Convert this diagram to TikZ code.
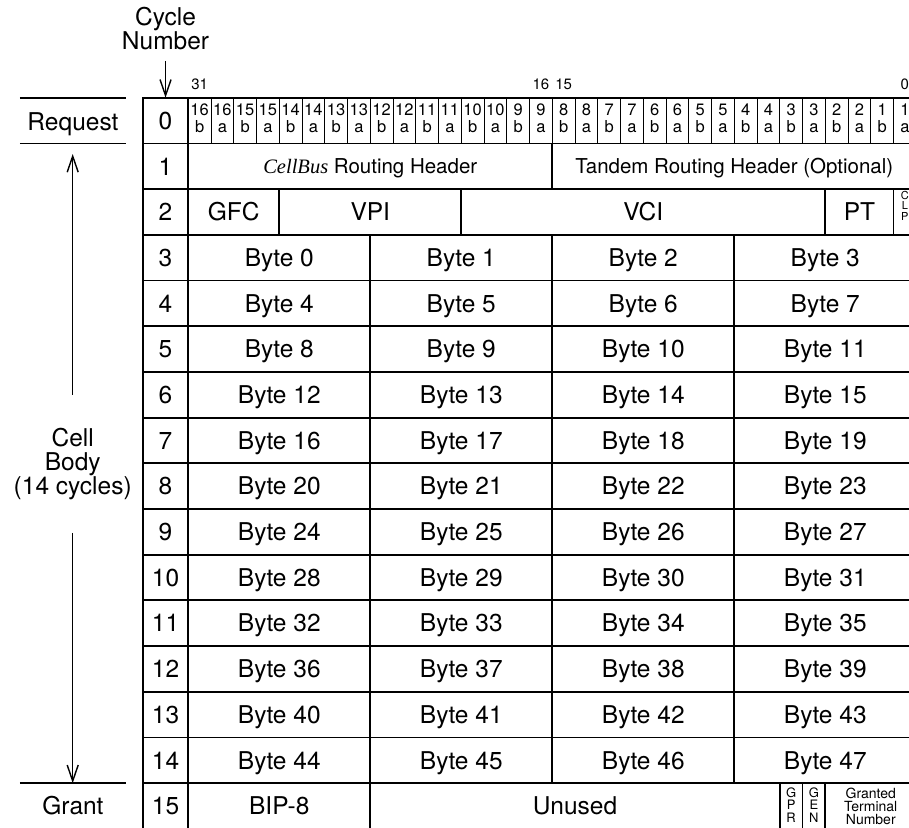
\documentclass[tikz,border=0pt]{standalone}
\usepackage{fontspec}
\setmainfont{TeX Gyre Heros}
\newfontfamily\cellbusfont{Liberation Serif}
\usetikzlibrary{arrows.meta,positioning}

\tikzset{
  gridline/.style={draw, line width=1.8pt},
  bitline/.style={draw, line width=1pt},
  lbl/.style={font=\fontsize{24.5}{25}\selectfont, inner sep=0pt, text height=17.5pt, text depth=0pt},
  lbllines/.style={font=\fontsize{24.5}{24}\selectfont, inner sep=0pt, align=center},
  hdr/.style={font=\fontsize{20.5}{21}\selectfont, inner sep=0pt, text height=14.7pt, text depth=0pt},
  bitno/.style={font=\fontsize{16.5}{16.5}\selectfont, inner sep=0pt, anchor=base},
  stack/.style={inner sep=0pt, align=center},
  vbar/.style={-{Straight Barb[length=16pt,width=11pt]}, line width=1.4pt},
}

\begin{document}
\begin{tikzpicture}[x=22.75pt, y=-45.7pt]
    \useasboundingbox (-8.277,-2.138) rectangle (31.68,15.98);

    % Cycle number column
    \foreach \row in {0,...,15} {
        \draw[gridline] (-2,\row) rectangle (0,\row+1) node[midway, lbl] (cyc-\row) {\row};
    }

    % Row 0: request bits
    \foreach \k in {0,...,31} {
        \pgfmathtruncatemacro\bitnum{16-floor(\k/2)}
        \draw[bitline] (\k,0) rectangle (\k+1,1);
        \node[bitno] (bitn-\k) at (\k+0.5,0.40) {\bitnum};
        \node[bitno] (bita-\k) at (\k+0.5,0.76) {\ifodd\k\relax a\else b\fi};
    }
    \draw[gridline] (0,0) rectangle (32,1);

    % Bit positions
    \node[bitno, font=\fontsize{15}{15}\selectfont] (pos31) at (0.5,-0.17) {31};
    \node[bitno, font=\fontsize{15}{15}\selectfont] (pos16) at (15.5,-0.17) {16};
    \node[bitno, font=\fontsize{15}{15}\selectfont] (pos15) at (16.5,-0.17) {15};
    \node[bitno, font=\fontsize{15}{15}\selectfont] (pos0) at (31.5,-0.17) {0};

    % Row 1: routing headers
    \draw[gridline] (0,1) rectangle (16,2) node[midway, hdr] (cbhdr) {{\cellbusfont\itshape CellBus} Routing Header};
    \draw[gridline] (16,1) rectangle (32,2) node[midway, hdr] (tdhdr) {Tandem Routing Header (Optional)};

    % Row 2: ATM header
    \draw[gridline] (0,2) rectangle (4,3) node[midway, lbl] (gfc) {GFC};
    \draw[gridline] (4,2) rectangle (12,3) node[midway, lbl] (vpi) {VPI};
    \draw[gridline] (12,2) rectangle (28,3) node[midway, lbl] (vci) {VCI};
    \draw[gridline] (28,2) rectangle (31,3) node[midway, lbl] (pt) {PT};
    \draw[bitline] (31,2) rectangle (32,3);
    \node[stack, font=\fontsize{11}{10.5}\selectfont] (clp) at (31.5,2.36) {C\\L\\P};

    % Rows 3-14: payload bytes
    \foreach \row in {3,...,14} {
        \foreach \col in {0,...,3} {
            \pgfmathtruncatemacro\bytenum{4*(\row-3)+\col}
            \draw[gridline] (8*\col,\row) rectangle (8*\col+8,\row+1) node[midway, lbl] (byte-\bytenum) {Byte \bytenum};
        }
    }

    % Row 15: grant
    \draw[gridline] (0,15) rectangle (8,16) node[midway, lbl] (bip) {BIP-8};
    \draw[gridline] (8,15) rectangle (26,16) node[midway, lbl] (unused) {Unused};
    \draw[bitline, line width=1.3pt] (26,15) rectangle (27,16);
    \draw[bitline, line width=1.3pt] (27,15) rectangle (28,16);
    \draw[gridline] (28,15) rectangle (32,16);
    \node[stack, font=\fontsize{13}{12.5}\selectfont] (gpr) at (26.5,15.47) {G\\P\\R};
    \node[stack, font=\fontsize{13}{12.5}\selectfont] (gen) at (27.5,15.47) {G\\E\\N};
    \node[stack, font=\fontsize{14}{13}\selectfont] (gtn) at (30,15.5) {Granted\\Terminal\\Number};

    % Cycle number heading
    \node[lbllines] (cyclenum) at (-1,-1.519) {Cycle\\Number};
    \coordinate (cyclein) at (-1,0);
    \draw[vbar, shorten <=11pt] (cyclenum) -- (cyclein);

    % Phases on the left
    \draw[gridline] (-7.398,0) -- (-2.738,0);
    \draw[gridline] (-7.398,1) -- (-2.738,1);
    \draw[gridline] (-7.398,15) -- (-2.738,15);
    \node[lbl] (request) at (-5.07,0.525) {Request};
    \node[lbl] (grant) at (-5.07,15.5) {Grant};
    \node[lbllines] (cellbody) at (-5.081,8.02) {Cell\\Body\\(14 cycles)};

    \coordinate (reqend) at (-5.081,1.232);
    \coordinate (bodytop) at (-5.081,6.505);
    \coordinate (bodybot) at (-5.081,9.525);
    \coordinate (grantend) at (-5.081,15);
    \draw[vbar] (bodytop) -- (reqend);
    \draw[vbar] (bodybot) -- (grantend);
\end{tikzpicture}
\end{document}
